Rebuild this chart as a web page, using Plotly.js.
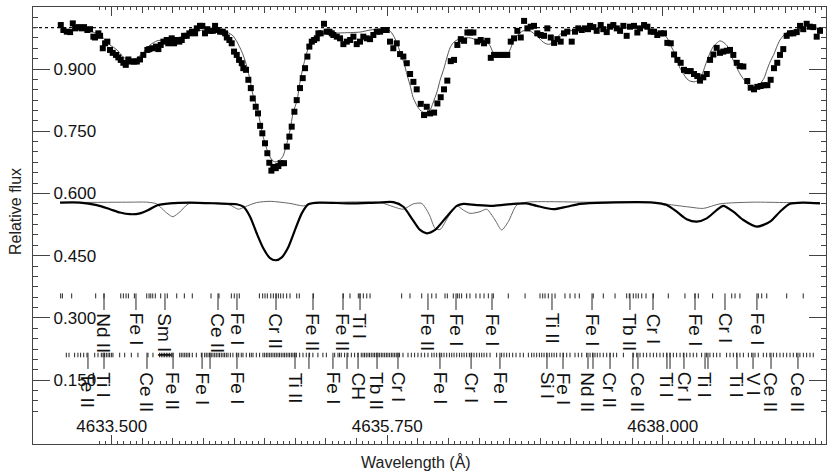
<!DOCTYPE html>
<html><head><meta charset="utf-8">
<script src="https://cdn.plot.ly/plotly-3.0.1.min.js"></script>
<style>html,body{margin:0;padding:0;background:#fff}</style>
</head><body><div id="chart" style="width:833px;height:475px"></div>
<script>
// Observed spectrum (points)
const obsWl = [4633.084,4633.105,4633.133,4633.160,4633.182,4633.201,4633.228,4633.255,4633.274,4633.301,4633.323,4633.350,4633.364,4633.391,4633.405,4633.427,4633.446,4633.464,4633.486,4633.508,4633.535,4633.554,4633.574,4633.595,4633.615,4633.636,4633.658,4633.682,4633.705,4633.731,4633.758,4633.791,4633.807,4633.835,4633.862,4633.881,4633.900,4633.922,4633.949,4633.962,4633.990,4634.009,4634.031,4634.052,4634.072,4634.091,4634.113,4634.134,4634.156,4634.181,4634.195,4634.221,4634.240,4634.262,4634.281,4634.303,4634.325,4634.344,4634.363,4634.385,4634.407,4634.426,4634.440,4634.461,4634.480,4634.499,4634.521,4634.540,4634.562,4634.575,4634.597,4634.616,4634.636,4634.652,4634.676,4634.695,4634.712,4634.730,4634.752,4634.771,4634.787,4634.804,4634.820,4634.840,4634.861,4634.880,4634.907,4634.930,4634.951,4634.970,4634.992,4635.011,4635.038,4635.060,4635.079,4635.098,4635.114,4635.134,4635.153,4635.175,4635.188,4635.207,4635.234,4635.256,4635.278,4635.297,4635.310,4635.338,4635.365,4635.392,4635.420,4635.447,4635.474,4635.501,4635.528,4635.555,4635.583,4635.610,4635.637,4635.665,4635.692,4635.719,4635.746,4635.773,4635.800,4635.828,4635.855,4635.882,4635.910,4635.937,4635.964,4635.991,4636.024,4636.051,4636.073,4636.100,4636.133,4636.160,4636.187,4636.214,4636.241,4636.269,4636.296,4636.323,4636.351,4636.378,4636.405,4636.427,4636.454,4636.486,4636.514,4636.541,4636.568,4636.596,4636.623,4636.650,4636.677,4636.704,4636.731,4636.759,4636.786,4636.813,4636.841,4636.868,4636.895,4636.922,4636.949,4636.976,4637.004,4637.031,4637.058,4637.086,4637.113,4637.140,4637.167,4637.194,4637.221,4637.257,4637.284,4637.311,4637.339,4637.366,4637.390,4637.407,4637.434,4637.461,4637.494,4637.515,4637.543,4637.570,4637.597,4637.625,4637.652,4637.679,4637.706,4637.733,4637.766,4637.793,4637.815,4637.848,4637.875,4637.902,4637.929,4637.956,4637.984,4638.011,4638.038,4638.066,4638.093,4638.120,4638.147,4638.174,4638.201,4638.229,4638.256,4638.283,4638.305,4638.332,4638.360,4638.387,4638.414,4638.441,4638.468,4638.495,4638.523,4638.550,4638.577,4638.605,4638.632,4638.659,4638.691,4638.719,4638.746,4638.773,4638.801,4638.828,4638.855,4638.882,4638.909,4638.936,4638.958,4638.985,4639.013,4639.040,4639.067,4639.095,4639.122,4639.148,4639.176,4639.203,4639.230,4639.258,4639.285];
const obsFlux = [1.006,0.994,0.990,0.989,1.010,0.998,1.001,0.998,1.001,0.994,
0.996,0.978,0.976,0.986,0.980,0.950,0.962,0.966,0.946,0.939,
0.934,0.928,0.922,0.915,0.910,0.923,0.918,0.918,0.918,0.923,
0.934,0.946,0.948,0.950,0.954,0.948,0.958,0.966,0.970,0.962,
0.974,0.962,0.970,0.966,0.970,0.980,0.980,0.986,0.990,0.986,
0.998,1.004,1.004,0.986,0.996,0.992,0.992,1.004,0.994,0.990,
0.990,0.986,0.976,0.970,0.962,0.942,0.934,0.922,0.914,0.902,
0.898,0.874,0.854,0.829,0.809,0.793,0.763,0.745,0.721,0.697,
0.674,0.655,0.664,0.661,0.666,0.673,0.673,0.713,0.737,0.761,
0.797,0.825,0.854,0.878,0.902,0.930,0.954,0.966,0.970,0.974,
0.986,0.986,1.009,0.990,0.990,0.986,0.982,0.978,0.974,0.960,
0.966,0.970,0.978,0.960,0.966,0.978,0.974,0.972,0.982,0.990,
0.990,0.994,0.994,0.966,0.950,0.962,0.936,0.930,0.914,0.888,
0.869,0.851,0.816,0.789,0.809,0.793,0.795,0.817,0.832,0.851,
0.872,0.919,0.922,0.958,0.972,0.968,0.988,0.988,0.988,0.966,
0.970,0.962,0.968,0.927,0.934,0.934,0.934,0.934,0.934,0.966,
0.974,0.992,0.976,1.016,0.998,1.002,1.004,0.986,0.982,0.980,
0.998,0.976,0.963,0.972,0.966,0.986,0.990,0.966,0.990,0.998,
0.994,0.998,0.996,1.004,1.001,0.992,1.006,0.996,0.989,1.002,
1.006,0.998,0.992,1.004,0.980,1.002,1.004,0.988,0.998,1.006,
1.002,0.990,0.990,0.982,0.986,0.986,0.963,0.962,0.935,0.922,
0.915,0.898,0.895,0.895,0.888,0.883,0.872,0.880,0.888,0.922,
0.935,0.951,0.939,0.942,0.944,0.946,0.934,0.915,0.907,0.906,
0.871,0.855,0.851,0.857,0.859,0.861,0.861,0.874,0.902,0.915,
0.934,0.948,0.980,0.986,0.986,0.989,1.004,0.996,1.009,1.002,
1.001,0.978,0.992];

// Synthetic fit (thin grey line, top)
const modelWl = [4633.086,4633.135,4633.241,4633.348,4633.405,4633.486,4633.544,4633.593,4633.650,4633.707,4633.756,4633.813,4633.870,4633.919,4633.976,4634.058,4634.140,4634.197,4634.246,4634.328,4634.385,4634.442,4634.491,4634.524,4634.548,4634.573,4634.605,4634.630,4634.654,4634.687,4634.712,4634.736,4634.769,4634.793,4634.818,4634.842,4634.875,4634.899,4634.932,4634.957,4634.981,4635.014,4635.038,4635.063,4635.095,4635.120,4635.161,4635.202,4635.365,4635.528,4635.610,4635.692,4635.749,4635.773,4635.798,4635.830,4635.855,4635.888,4635.912,4635.937,4635.961,4635.994,4636.018,4636.043,4636.075,4636.100,4636.124,4636.157,4636.182,4636.214,4636.239,4636.263,4636.288,4636.320,4636.369,4636.427,4636.484,4636.533,4636.565,4636.590,4636.614,4636.647,4636.696,4636.729,4636.753,4636.778,4636.810,4636.835,4636.859,4636.917,4636.941,4636.974,4636.998,4637.023,4637.056,4637.080,4637.105,4637.137,4637.162,4637.203,4637.243,4637.325,4637.488,4637.815,4637.896,4637.954,4638.003,4638.036,4638.060,4638.093,4638.117,4638.142,4638.174,4638.199,4638.223,4638.256,4638.281,4638.305,4638.330,4638.354,4638.387,4638.411,4638.444,4638.468,4638.493,4638.526,4638.550,4638.575,4638.607,4638.632,4638.664,4638.689,4638.713,4638.746,4638.771,4638.795,4638.828,4638.852,4638.877,4638.909,4638.934,4638.958,4638.991,4639.015,4639.040,4639.122,4639.285];
const modelFlux = [0.999,0.994,0.994,0.989,0.982,0.958,0.946,0.929,0.922,0.927,
0.939,0.958,0.968,0.970,0.972,0.977,0.987,0.992,0.994,0.996,
0.994,0.989,0.980,0.965,0.951,0.934,0.905,0.873,0.837,0.808,
0.772,0.738,0.705,0.688,0.678,0.676,0.681,0.690,0.722,0.753,
0.794,0.825,0.869,0.905,0.941,0.963,0.977,0.984,0.987,0.989,
0.994,0.996,0.996,0.992,0.982,0.963,0.941,0.914,0.886,0.861,
0.832,0.811,0.801,0.796,0.796,0.801,0.818,0.845,0.873,0.902,
0.929,0.951,0.963,0.970,0.975,0.975,0.970,0.968,0.965,0.956,
0.941,0.936,0.934,0.934,0.946,0.965,0.980,0.987,0.992,0.992,
0.987,0.980,0.972,0.965,0.960,0.960,0.965,0.975,0.984,0.989,
0.992,0.994,0.999,0.999,0.996,0.992,0.984,0.975,0.960,0.941,
0.922,0.902,0.886,0.876,0.871,0.869,0.871,0.878,0.893,0.914,
0.939,0.953,0.963,0.968,0.965,0.956,0.941,0.922,0.902,0.888,
0.874,0.864,0.857,0.854,0.857,0.864,0.878,0.898,0.917,0.936,
0.955,0.970,0.982,0.989,0.992,0.996,0.999];

// Lower offset spectra: thick (black) and thin (grey)
const thickWl = [4633.078,4633.241,4633.378,4633.486,4633.568,4633.650,4633.731,4633.799,4633.868,4633.976,4634.140,4634.358,4634.521,4634.575,4634.630,4634.684,4634.738,4634.793,4634.840,4634.889,4634.943,4634.997,4635.052,4635.106,4635.202,4635.447,4635.665,4635.800,4635.882,4635.950,4636.018,4636.073,4636.141,4636.236,4636.318,4636.372,4636.481,4636.617,4636.780,4636.890,4636.971,4637.107,4637.216,4637.325,4637.543,4637.924,4638.033,4638.115,4638.196,4638.278,4638.360,4638.441,4638.495,4638.577,4638.659,4638.768,4638.877,4638.958,4639.040,4639.148,4639.285];
const thickFlux = [0.578,0.578,0.572,0.562,0.554,0.550,0.552,0.560,0.571,0.576,0.578,0.576,0.574,0.568,0.544,0.504,0.468,0.444,0.439,0.446,0.471,0.512,0.552,0.574,0.578,0.576,0.578,0.579,0.568,0.540,0.512,0.504,0.512,0.544,0.570,0.575,0.572,0.570,0.575,0.576,0.570,0.562,0.568,0.575,0.578,0.578,0.572,0.556,0.538,0.532,0.540,0.560,0.570,0.556,0.536,0.520,0.532,0.556,0.575,0.578,0.576];
const thinWl = [4633.078,4633.650,4633.786,4633.868,4633.922,4633.998,4634.058,4634.126,4634.248,4634.466,4634.534,4634.589,4634.684,4634.793,4634.956,4635.065,4635.147,4635.692,4635.800,4635.882,4635.964,4636.032,4636.073,4636.100,4636.141,4636.182,4636.249,4636.318,4636.372,4636.427,4636.508,4636.563,4636.631,4636.685,4636.739,4636.808,4636.890,4637.380,4637.924,4638.087,4638.223,4638.332,4638.468,4638.740,4639.013,4639.285];
const thinFlux = [0.578,0.579,0.579,0.575,0.560,0.544,0.556,0.575,0.578,0.572,0.562,0.568,0.578,0.581,0.576,0.570,0.576,0.578,0.568,0.562,0.575,0.576,0.560,0.545,0.516,0.513,0.544,0.570,0.560,0.552,0.556,0.562,0.536,0.512,0.532,0.572,0.579,0.579,0.578,0.572,0.567,0.564,0.575,0.579,0.578,0.578];

// Continuum level
const contWl = [4632.857, 4639.334];
const contFlux = [1.0, 1.0];

// Line list: upper row
const upperTicks = [4633.083,4633.097,4633.173,4633.369,4633.437,4633.574,4633.595,4633.617,4633.636,4633.685,4633.786,4633.805,4633.819,4633.835,4633.856,4633.900,4633.954,4634.031,4634.093,4634.158,4634.311,4634.376,4634.477,4634.501,4634.542,4634.706,4634.733,4634.752,4634.771,4634.799,4634.820,4634.842,4634.861,4634.880,4634.901,4634.929,4634.956,4635.011,4635.032,4635.147,4635.391,4635.446,4635.514,4635.528,4635.555,4635.583,4635.610,4635.868,4635.936,4636.032,4636.114,4636.149,4636.222,4636.241,4636.290,4636.323,4636.339,4636.358,4636.399,4636.426,4636.475,4636.508,4636.541,4636.576,4636.617,4636.739,4636.876,4636.998,4637.020,4637.039,4637.066,4637.121,4637.202,4637.243,4637.284,4637.319,4637.433,4637.515,4637.611,4637.706,4637.727,4637.760,4637.782,4637.801,4637.829,4637.864,4637.923,4638.046,4638.182,4638.264,4638.291,4638.408,4638.564,4638.591,4638.631,4638.781,4638.809,4638.850,4639.013,4639.148];
const upperLineWl = [4633.437,4633.698,4633.935,4634.368,4634.523,4634.842,4635.144,4635.389,4635.528,4636.083,4636.312,4636.606,4637.096,4637.423,4637.733,4637.921,4638.264,4638.509,4638.770];
const upperLabels = ["Nd II","Fe I","Sm II","Ce II","Fe I","Cr II","Fe II","Fe II","Ti I","Fe II","Fe I","Fe I","Ti II","Fe I","Tb II","Cr I","Fe I","Cr I","Fe I"];

// Line list: lower row
const lowerTicks = [4633.129,4633.151,4633.197,4633.224,4633.246,4633.271,4633.298,4633.361,4633.388,4633.415,4633.429,4633.442,4633.456,4633.470,4633.483,4633.497,4633.510,4633.565,4633.606,4633.660,4633.714,4633.796,4633.837,4633.891,4633.905,4633.919,4633.932,4633.946,4633.959,4633.973,4633.987,4634.000,4634.055,4634.068,4634.082,4634.096,4634.109,4634.123,4634.136,4634.158,4634.191,4634.232,4634.259,4634.272,4634.286,4634.300,4634.313,4634.327,4634.341,4634.354,4634.368,4634.381,4634.395,4634.409,4634.422,4634.436,4634.450,4634.469,4634.490,4634.518,4634.537,4634.558,4634.572,4634.599,4634.626,4634.640,4634.654,4634.681,4634.708,4634.735,4634.749,4634.763,4634.776,4634.790,4634.803,4634.817,4634.831,4634.844,4634.858,4634.871,4634.885,4634.899,4634.912,4634.926,4634.940,4634.953,4634.967,4634.980,4634.994,4635.008,4635.035,4635.062,4635.089,4635.116,4635.143,4635.184,4635.225,4635.253,4635.321,4635.348,4635.361,4635.375,4635.402,4635.429,4635.457,4635.484,4635.511,4635.538,4635.552,4635.565,4635.579,4635.593,4635.606,4635.620,4635.634,4635.647,4635.661,4635.675,4635.688,4635.702,4635.715,4635.729,4635.743,4635.756,4635.770,4635.784,4635.797,4635.811,4635.824,4635.838,4635.851,4635.879,4635.920,4635.947,4635.974,4636.001,4636.028,4636.056,4636.083,4636.114,4636.133,4636.154,4636.176,4636.195,4636.214,4636.236,4636.258,4636.277,4636.296,4636.318,4636.340,4636.359,4636.378,4636.399,4636.421,4636.440,4636.459,4636.481,4636.503,4636.522,4636.541,4636.563,4636.590,4636.644,4636.685,4636.704,4636.726,4636.748,4636.775,4636.802,4636.835,4636.862,4636.903,4636.930,4636.949,4636.971,4636.993,4637.012,4637.031,4637.053,4637.074,4637.094,4637.113,4637.134,4637.162,4637.189,4637.216,4637.243,4637.284,4637.311,4637.339,4637.379,4637.407,4637.428,4637.447,4637.466,4637.488,4637.515,4637.543,4637.570,4637.597,4637.624,4637.679,4637.760,4637.788,4637.815,4637.842,4637.869,4637.897,4637.924,4637.951,4637.978,4638.005,4638.033,4638.060,4638.087,4638.114,4638.142,4638.169,4638.196,4638.223,4638.250,4638.278,4638.318,4638.359,4638.386,4638.414,4638.441,4638.468,4638.522,4638.550,4638.577,4638.604,4638.631,4638.659,4638.700,4638.727,4638.754,4638.781,4638.822,4638.849,4638.876,4638.904,4638.931,4638.958,4638.985,4639.013,4639.040,4639.067,4639.094,4639.121,4639.149,4639.176,4639.203,4639.230];
const lowerLineWl = [4633.306,4633.437,4633.788,4634.001,4634.238,4634.523,4634.997,4635.307,4635.512,4635.667,4635.838,4636.181,4636.435,4636.671,4637.055,4637.186,4637.390,4637.570,4637.798,4638.035,4638.174,4638.346,4638.607,4638.738,4638.885,4639.105];
const lowerLabels = ["Te II","Ti I","Ce II","Fe II","Fe I","Fe I","Ti II","Fe I","CH","Tb II","Cr I","Fe I","Cr I","Fe I","Si I","Fe I","Nd II","Cr II","Ce II","Ti I","Cr I","Ti I","Ti I","V I","Ce II","Ce II"];
const lowerUnlabeledWl = [4634.303,4635.111,4635.422,4637.431,4637.757,4638.060,4638.370];

// Axis ticks
const xTickVals = [4633.5, 4635.75, 4638.0];
const xTickText = ["4633.500", "4635.750", "4638.000"];
const yTickVals = [0.15, 0.30, 0.45, 0.60, 0.75, 0.90];
const yTickText = ["0.150", "0.300", "0.450", "0.600", "0.750", "0.900"];

// ---- drawing ----
const XR = [4632.857, 4639.334];
const YR = [-0.004, 1.0495];
const ROW1 = {tickTop: 0.359, tickBot: 0.347, lineBot: 0.319, text: 0.316};
const ROW2 = {tickTop: 0.216, tickBot: 0.205, lineBot: 0.177, text: 0.174};

function segs(xs, y0, y1) {
  const x = [], y = [];
  xs.forEach(v => { x.push(v, v, null); y.push(y0, y1, null); });
  return {x, y};
}
function segTrace(xs, y0, y1, w, c) {
  const s = segs(xs, y0, y1);
  return {x: s.x, y: s.y, type: 'scatter', mode: 'lines', line: {color: c || '#111', width: w || 1}, hoverinfo: 'skip', showlegend: false};
}

const FONT = "'Liberation Sans', Arial, Helvetica, sans-serif";
const traces = [
  {x: contWl, y: contFlux, type: 'scatter', mode: 'lines', line: {color: '#111', width: 1.3, dash: 'dot'}},
  {x: modelWl, y: modelFlux, type: 'scatter', mode: 'lines', line: {color: '#555', width: 1, shape: 'spline', smoothing: 0.6}},
  {x: obsWl, y: obsFlux, type: 'scatter', mode: 'markers', marker: {symbol: 'square', size: 6, color: '#000', line: {width: 0}}},
  {x: thinWl, y: thinFlux, type: 'scatter', mode: 'lines', line: {color: '#666', width: 1, shape: 'spline', smoothing: 0.7}},
  {x: thickWl, y: thickFlux, type: 'scatter', mode: 'lines', line: {color: '#000', width: 2.2, shape: 'spline', smoothing: 0.7}},
  segTrace(upperTicks, ROW1.tickTop, ROW1.tickBot, 1, '#222'),
  segTrace(upperLineWl, ROW1.tickTop, ROW1.lineBot, 1, '#222'),
  segTrace(lowerTicks, ROW2.tickTop, ROW2.tickBot, 1, '#222'),
  segTrace(lowerLineWl, ROW2.tickTop, ROW2.lineBot, 1, '#222'),
  segTrace(lowerUnlabeledWl, ROW2.tickTop, ROW2.lineBot, 1, '#222'),
  {x: [XR[0]], y: [null], xaxis: 'x2', type: 'scatter', mode: 'markers', showlegend: false, hoverinfo: 'skip'}
];

const annotations = [];
upperLineWl.forEach((w, i) => annotations.push({x: w, y: ROW1.text, xref: 'x', yref: 'y', text: upperLabels[i], textangle: 90, showarrow: false, xanchor: 'center', yanchor: 'top', font: {family: FONT, size: 19, color: '#111'}}));
lowerLineWl.forEach((w, i) => annotations.push({x: w, y: ROW2.text, xref: 'x', yref: 'y', text: lowerLabels[i], textangle: 90, showarrow: false, xanchor: 'center', yanchor: 'top', font: {family: FONT, size: 19, color: '#111'}}));
annotations.push({x: 0.483, y: -0.041, xref: 'paper', yref: 'paper', text: 'Wavelength (Å)', showarrow: false, xanchor: 'center', yanchor: 'middle', font: {family: FONT, size: 16, color: '#222'}});
annotations.push({x: -0.0227, y: 0.533, xref: 'paper', yref: 'paper', text: 'Relative flux', textangle: -90, showarrow: false, xanchor: 'center', yanchor: 'middle', font: {family: FONT, size: 16, color: '#222'}});

const layout = {
  width: 833, height: 475,
  margin: {l: 33, r: 7, t: 7, b: 31, pad: 0},
  paper_bgcolor: '#fff', plot_bgcolor: '#fff',
  showlegend: false,
  font: {family: FONT, size: 17, color: '#111'},
  xaxis: {
    range: XR, showgrid: false, zeroline: false, showline: true, linecolor: '#444', linewidth: 1,
    mirror: 'ticks', ticks: 'inside', ticklen: 9, tickcolor: '#444', tickwidth: 1,
    tickvals: xTickVals, ticktext: xTickText, ticklabelposition: 'inside', tickfont: {family: FONT, size: 17, color: '#111'},
    minor: {dtick: 0.05, tick0: 4633.5, ticklen: 3, ticks: 'inside', tickcolor: '#444', showgrid: false}
  },
  xaxis2: {
    range: XR, overlaying: 'x', anchor: 'y', side: 'bottom', showgrid: false, zeroline: false, showline: false,
    showticklabels: false, ticks: 'inside', ticklen: 6, tickcolor: '#444', dtick: 0.25, tick0: 4633.5, mirror: 'ticks'
  },
  yaxis: {
    range: YR, showgrid: false, zeroline: false, showline: true, linecolor: '#444', linewidth: 1,
    mirror: 'ticks', ticks: 'inside', ticklen: 17, tickcolor: '#444', tickwidth: 1,
    tickvals: yTickVals, ticktext: yTickText, ticklabelposition: 'inside', ticklabelstandoff: 4,
    tickfont: {family: FONT, size: 17, color: '#111'},
    minor: {dtick: 0.025, tick0: 0, ticklen: 5, ticks: 'inside', tickcolor: '#444', showgrid: false}
  },
  annotations: annotations
};

Plotly.newPlot('chart', traces, layout, {displayModeBar: false, staticPlot: true});
</script></body></html>
